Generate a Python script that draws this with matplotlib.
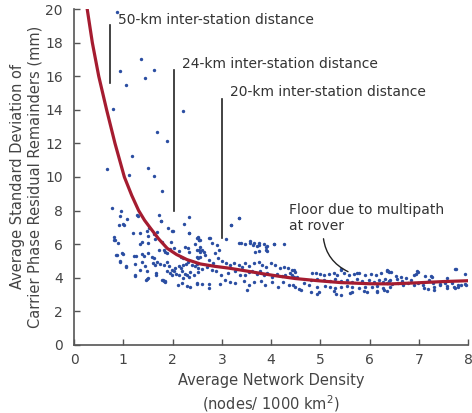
import matplotlib

matplotlib.use("Agg")
import matplotlib.pyplot as plt
import numpy as np

# scatter data: network density (nodes / 1000 km^2) vs average std of residuals (mm)
outlier_x = [0.88, 1.36, 0.94, 1.62, 1.43, 1.05, 0.79, 2.21, 1.69, 1.88, 1.17, 0.66, 1.51,
             1.11, 1.62, 1.78, 0.77, 0.96, 0.94, 1.07, 1.28, 0.92, 1.00, 1.73, 1.76, 2.33,
             2.24, 3.34, 3.19, 1.91, 1.99]
outlier_y = [19.8, 17.0, 16.3, 16.35, 15.9, 15.5, 14.07, 13.95, 12.7, 12.16, 11.23, 10.5, 10.55,
             10.14, 10.06, 9.18, 8.14, 8.0, 7.66, 7.52, 7.72, 7.12, 7.18, 7.74, 7.4, 7.6,
             7.18, 7.54, 7.16, 6.98, 6.79]

left_x = [0.80, 0.83, 0.90, 1.19, 1.34, 1.48, 1.53, 1.51, 1.63, 1.68, 1.37, 1.33, 1.49, 1.65,
          1.78, 1.97, 2.33, 2.49, 2.53, 0.87, 0.99, 1.22, 1.25, 1.37, 1.41, 1.51, 1.58, 1.63,
          1.73, 1.82, 1.85, 1.88, 1.95, 2.03, 2.12, 2.26, 2.32, 2.34, 2.17, 2.22, 0.93, 1.06,
          1.24, 1.37, 1.44, 1.33, 1.60, 1.65, 1.69, 1.75, 1.82, 1.88, 1.92, 1.99, 2.02, 2.05,
          2.12, 2.17, 2.22, 2.28, 2.32, 2.39, 2.46, 2.49, 1.24, 1.48, 1.67, 1.67, 1.78, 1.82,
          1.85, 1.88, 1.94, 1.99, 2.07, 2.12, 2.19, 2.26, 2.30, 2.36, 2.44, 2.51, 1.48, 2.10,
          2.19, 2.30, 2.36, 2.49, 2.22, 2.34, 2.50, 2.56, 2.55, 2.51, 0.85, 0.97, 0.94, 1.05,
          1.24, 1.46, 1.49, 1.80, 1.85, 0.81, 1.02, 1.29, 1.77, 2.00]
left_y = [6.41, 6.23, 6.05, 6.67, 6.67, 6.79, 6.94, 6.51, 6.59, 6.71, 6.15, 6.00, 6.05, 6.31,
          6.15, 6.15, 6.65, 6.39, 6.25, 5.36, 5.42, 5.32, 5.32, 5.42, 5.32, 5.46, 5.26, 5.16,
          5.65, 5.65, 5.55, 5.46, 5.69, 5.75, 5.59, 5.85, 5.79, 5.55, 5.26, 5.16, 4.96, 4.67,
          4.80, 4.96, 4.67, 4.46, 4.86, 4.76, 4.92, 4.82, 4.76, 4.96, 4.67, 4.46, 4.37, 4.56,
          4.67, 4.56, 4.76, 4.82, 4.96, 4.76, 4.67, 4.82, 4.17, 4.41, 4.27, 4.17, 3.88, 3.82,
          3.78, 4.37, 4.29, 4.17, 4.23, 4.17, 4.37, 4.23, 4.17, 4.31, 4.17, 4.31, 3.94, 3.57,
          3.67, 3.53, 3.47, 3.61, 4.00, 4.04, 5.65, 5.51, 5.26, 5.20, 5.36, 5.46, 5.02, 4.66,
          4.11, 3.87, 3.97, 3.87, 3.77, 6.25, 7.14, 7.70, 7.38, 6.78]

mid_x = [3.34, 3.19, 3.09, 2.75, 2.52, 2.53, 2.46, 2.56, 2.59, 3.34, 3.39, 3.47, 3.57, 3.64,
         3.71, 3.76, 3.90, 4.05, 4.26, 3.76, 3.90, 2.54, 2.63, 2.65, 2.49, 2.87, 2.92, 3.01,
         3.08, 3.17, 3.24, 3.34, 3.41, 3.47, 3.55, 3.66, 3.75, 3.82, 3.90, 3.99, 4.07, 4.17,
         4.26, 4.35, 4.42, 2.73, 2.81, 2.70, 2.60, 2.52, 2.79, 2.89, 2.99, 3.13, 3.27, 3.37,
         3.47, 3.54, 3.61, 3.71, 3.78, 3.85, 3.91, 4.02, 4.12, 4.21, 4.29, 4.39, 4.46, 2.49,
         2.59, 2.73, 2.97, 3.07, 3.17, 3.27, 3.44, 3.54, 3.66, 3.80, 3.88, 4.02, 4.14, 4.24,
         4.36, 3.51, 2.73, 3.58, 3.66, 3.75, 3.85, 3.92, 4.05, 3.68, 3.92, 2.34, 2.51, 2.56,
         2.73, 2.80, 2.90, 2.95]
mid_y = [7.54, 7.14, 6.31, 6.39, 6.39, 6.23, 5.99, 5.85, 5.65, 6.05, 6.05, 5.99, 6.05, 5.95,
         5.91, 6.05, 5.85, 5.99, 5.99, 5.59, 5.63, 5.65, 5.51, 5.36, 5.26, 5.46, 5.16, 5.02,
         4.86, 4.76, 4.86, 4.76, 4.66, 4.86, 4.70, 4.86, 4.96, 4.76, 4.66, 4.86, 4.76, 4.56,
         4.66, 4.60, 4.46, 5.06, 4.86, 4.66, 4.52, 4.60, 4.46, 4.37, 4.17, 4.27, 4.41, 4.17,
         4.17, 4.33, 4.41, 4.21, 4.37, 4.17, 4.27, 4.07, 4.21, 4.13, 4.17, 4.27, 4.07, 3.67,
         3.61, 3.61, 3.61, 3.86, 3.72, 3.67, 3.80, 3.57, 3.72, 3.80, 3.57, 3.72, 3.47, 3.72,
         3.57, 3.27, 3.41, 6.21, 6.07, 5.97, 6.03, 5.87, 6.03, 5.55, 5.60, 6.65, 6.45, 6.25,
         6.35, 6.09, 5.95, 5.65]

right_x = [4.46, 4.49, 4.42, 4.53, 5.41, 4.83, 4.90, 5.00, 5.07, 5.17, 5.27, 5.34, 5.47, 5.58,
           5.68, 5.78, 5.91, 6.02, 6.12, 6.22, 6.36, 4.80, 4.93, 5.07, 5.20, 5.30, 5.41, 5.54,
           5.64, 5.74, 5.84, 5.98, 6.08, 6.18, 6.28, 6.39, 4.67, 4.77, 4.93, 5.10, 5.20, 5.30,
           5.41, 5.54, 5.64, 5.78, 5.91, 6.05, 6.15, 6.28, 6.42, 4.97, 5.27, 5.64, 5.88, 6.15,
           6.36, 4.44, 4.49, 4.56, 7.76, 7.93, 6.37, 6.44, 6.99, 6.94, 6.90, 7.27, 7.13, 7.57,
           7.20, 6.32, 6.42, 6.56, 6.66, 6.73, 6.83, 6.63, 6.53, 6.35, 6.45, 6.58, 6.68, 6.78,
           6.89, 6.99, 7.09, 7.29, 7.43, 7.53, 7.67, 7.80, 7.94, 7.19, 7.31, 7.56, 7.73, 7.80,
           7.42, 7.56, 5.41, 5.75, 6.36, 6.39, 6.96, 7.24, 7.74, 7.85, 7.95, 4.60, 4.80, 4.93,
           5.31, 5.41, 5.61, 5.95, 6.15, 6.29, 7.10, 7.30, 7.71]
right_y = [4.46, 4.31, 4.17, 4.07, 4.46, 4.27, 4.27, 4.23, 4.17, 4.23, 4.27, 4.17, 4.27, 4.17,
           4.23, 4.27, 4.17, 4.23, 4.17, 4.27, 4.37, 3.87, 3.91, 3.87, 3.83, 3.91, 3.83, 3.87,
           3.77, 3.91, 3.83, 3.87, 3.77, 3.87, 3.77, 3.83, 3.67, 3.57, 3.47, 3.51, 3.43, 3.37,
           3.47, 3.51, 3.43, 3.37, 3.47, 3.43, 3.51, 3.37, 3.47, 3.17, 3.21, 3.17, 3.21, 3.17,
           3.21, 3.57, 3.43, 3.31, 4.50, 4.23, 4.40, 4.32, 4.32, 4.23, 4.17, 4.07, 4.10, 3.97,
           3.87, 3.91, 3.87, 3.91, 3.83, 3.97, 3.87, 4.07, 4.10, 3.67, 3.63, 3.71, 3.57, 3.67,
           3.57, 3.67, 3.57, 3.67, 3.63, 3.71, 3.67, 3.57, 3.63, 3.31, 3.27, 3.37, 3.37, 3.43,
           3.57, 3.51, 4.50, 4.27, 4.43, 4.31, 4.37, 4.11, 4.50, 3.57, 3.57, 3.27, 3.17, 3.04,
           3.04, 2.98, 3.11, 3.17, 3.23, 3.27, 3.37, 3.43, 3.43]

# fitted trend curve
fit_x = [0.24, 0.37, 0.50, 0.66, 0.83, 1.02, 1.17, 1.31, 1.43, 1.55, 1.72, 1.89, 2.08, 2.29,
         2.56, 2.85, 3.14, 3.50, 3.82, 4.15, 4.49, 4.95, 5.41, 6.00, 6.43, 7.00, 7.50, 8.00]
fit_y = [20.5, 18.0, 16.0, 14.0, 12.0, 10.0, 8.9, 8.0, 7.42, 6.95, 6.30, 5.75, 5.38, 5.08,
         4.82, 4.68, 4.57, 4.40, 4.24, 4.09, 3.95, 3.82, 3.71, 3.64, 3.63, 3.70, 3.77, 3.82]

# vertical markers for inter-station distances
marker_x = [0.72, 2.02, 3.01]
marker_lo = [15.6, 8.0, 6.37]
marker_hi = [19.05, 16.4, 14.65]
marker_labels = ["50-km inter-station distance", "24-km inter-station distance",
                 "20-km inter-station distance"]
label_pos = [(0.89, 19.35), (2.2, 16.7), (3.16, 15.05)]

text_col = "#333333"
axis_col = "#555555"

fig = plt.figure(figsize=(4.72, 4.13), dpi=100)
ax = fig.add_axes([0.157, 0.165, 0.835, 0.813])

xs = np.concatenate([outlier_x, left_x, mid_x, right_x])
ys = np.concatenate([outlier_y, left_y, mid_y, right_y])
ax.scatter(xs, ys, s=6, color="#2b4ea2", linewidths=0, zorder=2)

ax.plot(fit_x, fit_y, color="#a51c30", lw=2.3, zorder=3,
        solid_capstyle="round", solid_joinstyle="round")

for xm, lo, hi in zip(marker_x, marker_lo, marker_hi):
    ax.plot([xm, xm], [lo, hi], color="#222222", lw=1.2, zorder=4)
for lab, (tx, ty) in zip(marker_labels, label_pos):
    ax.text(tx, ty, lab, fontsize=10, color=text_col, va="center", ha="left")

ax.annotate("Floor due to multipath\nat rover", xy=(5.56, 4.36), xytext=(4.36, 7.55),
            fontsize=10, color=text_col, va="center", ha="left",
            arrowprops=dict(arrowstyle="-", color="#222222", lw=1.0,
                            connectionstyle="arc3,rad=0.3", shrinkA=2, shrinkB=0,
                            relpos=(0.22, 0.0)))

ax.set_xlim(0, 8)
ax.set_ylim(0, 20)
ax.set_xticks(range(0, 9))
ax.set_yticks(range(0, 21, 2))
ax.tick_params(direction="in", length=4, width=1, colors=axis_col, labelsize=10,
               labelcolor="#444444")
ax.tick_params(axis="x", pad=6)
ax.tick_params(axis="y", pad=8)
for side in ["top", "right"]:
    ax.spines[side].set_visible(False)
for side in ["left", "bottom"]:
    ax.spines[side].set_color(axis_col)
    ax.spines[side].set_linewidth(1.2)

ax.set_xlabel("Average Network Density\n(nodes/ 1000 km$^2$)", fontsize=10.5,
              color="#444444", linespacing=1.35, labelpad=4)
ax.set_ylabel("Average Standard Deviation of\nCarrier Phase Residual Remainders (mm)",
              fontsize=10.5, color="#444444", linespacing=1.2, labelpad=2)

fig.savefig("out.png", dpi=100)
